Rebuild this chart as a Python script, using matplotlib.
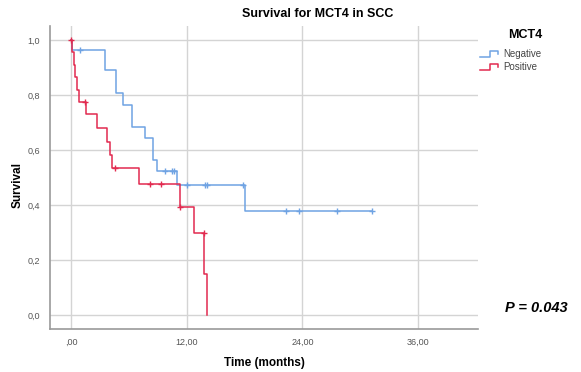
import matplotlib
matplotlib.use('Agg')
import matplotlib.pyplot as plt
from matplotlib.lines import Line2D

### Kaplan-Meier curves

# Negative group: step times (months) and survival after each step
neg_times = [0, 0.05, 3.5, 4.7, 5.35, 6.3, 7.67, 8.54, 8.89, 10.95, 18.0, 31.2]
neg_surv = [1.0, 0.964, 0.89, 0.806, 0.764, 0.685, 0.643, 0.564, 0.524, 0.474, 0.378, 0.378]
neg_cens_t = [0.93, 9.75, 10.5, 10.65, 12.0, 13.9, 14.1, 17.8, 22.3, 23.6, 27.6, 31.2]
neg_cens_s = [0.964, 0.524, 0.524, 0.524, 0.474, 0.474, 0.474, 0.474, 0.378, 0.378, 0.378, 0.378]

# Positive group
pos_times = [0, 0.05, 0.3, 0.45, 0.6, 0.86, 1.6, 2.7, 3.7, 4.0, 4.2, 7.1, 11.25, 12.75, 13.8, 14.1]
pos_surv = [1.0, 0.955, 0.909, 0.864, 0.818, 0.776, 0.731, 0.679, 0.630, 0.582, 0.533, 0.475, 0.394, 0.297, 0.149, 0.0]
pos_cens_t = [0.0, 1.5, 4.6, 8.2, 9.3, 11.3, 13.75]
pos_cens_s = [1.0, 0.776, 0.533, 0.475, 0.475, 0.394, 0.297]

x_ticks = [0, 12, 24, 36]
x_labels = [',00', '12,00', '24,00', '36,00']
y_ticks = [0.0, 0.2, 0.4, 0.6, 0.8, 1.0]
y_labels = ['0,0', '0,2', '0,4', '0,6', '0,8', '1,0']

neg_color = '#6fa3e3'
pos_color = '#e22a4f'

plt.rcParams['font.family'] = ['Liberation Sans', 'DejaVu Sans']

W, H = 581, 372
fig = plt.figure(figsize=(W / 100, H / 100), dpi=100)
ax = fig.add_axes([50 / W, 1 - 329 / H, (478 - 50) / W, (329 - 26) / H])

ax.step(neg_times, neg_surv, where='post', color=neg_color, lw=1.1)
ax.step(pos_times, pos_surv, where='post', color=pos_color, lw=1.1)
ax.plot(neg_cens_t, neg_cens_s, ls='none', marker='+', ms=5, mew=1, color=neg_color)
ax.plot(pos_cens_t, pos_cens_s, ls='none', marker='+', ms=5, mew=1, color=pos_color)

ax.set_xlim(-2.18, 42.2)
ax.set_ylim(-0.051, 1.051)
ax.set_xticks(x_ticks)
ax.set_xticklabels(x_labels)
ax.set_yticks(y_ticks)
ax.set_yticklabels(y_labels)
ax.tick_params(length=0, labelsize=6.5, colors='#555555')
ax.tick_params(axis='x', pad=6)
ax.tick_params(axis='y', pad=7)
ax.grid(True, color='#d4d4d4', lw=1)
ax.set_axisbelow(True)
for s in ['top', 'right']:
  ax.spines[s].set_visible(False)
for s in ['left', 'bottom']:
  ax.spines[s].set_color('#9a9a9a')
  ax.spines[s].set_linewidth(1.2)

ax.set_xlabel('Time (months)', fontsize=8.5, fontweight='bold', labelpad=8)
fig.text(18 / W, 1 - 185 / H, 'Survival', rotation=90, ha='center', va='center',
         fontsize=8.5, fontweight='bold')
fig.text(318 / W, 1 - 14 / H, 'Survival for MCT4 in SCC', ha='center', va='center',
         fontsize=9, fontweight='bold')

# legend drawn by hand to get the little step icons
fig.text(525 / W, 1 - 35 / H, 'MCT4', ha='center', va='center', fontsize=9, fontweight='bold')
for yy, col, lab in [(54, neg_color, 'Negative'), (67, pos_color, 'Positive')]:
  xs = [480, 490, 490, 498, 498]
  ys = [yy + 3, yy + 3, yy - 3, yy - 3, yy]
  fig.add_artist(Line2D([x / W for x in xs], [1 - y / H for y in ys], color=col, lw=1.1))
  fig.text(503 / W, 1 - yy / H, lab, ha='left', va='center', fontsize=7, color='#444444')

fig.text(536 / W, 1 - 308 / H, 'P = 0.043', ha='center', va='center', fontsize=10.5,
         fontweight='bold', fontstyle='italic')

plt.savefig('out.png', dpi=100)
